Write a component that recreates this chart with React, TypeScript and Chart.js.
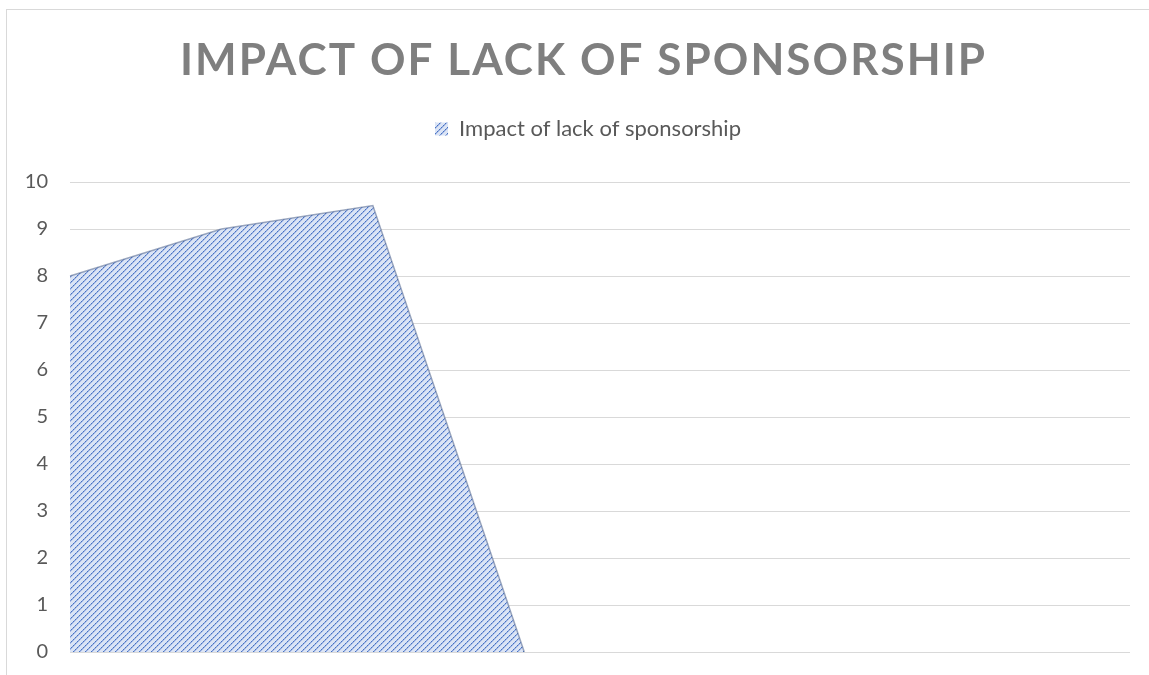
import React, { useEffect, useRef } from 'react';
import { Chart, registerables } from 'chart.js';

Chart.register(...registerables);

const chartTitle = 'IMPACT OF LACK OF SPONSORSHIP';
const seriesName = 'Impact of lack of sponsorship';
const categories = ['1', '2', '3', '4', '5', '6', '7', '8'];
const impactValues: (number | null)[] = [8, 9, 9.5, 0, null, null, null, null];
const yMin = 0;
const yMax = 10;
const yStep = 1;

function makePattern(): CanvasPattern | string {
  const n = 6;
  const tile = document.createElement('canvas');
  tile.width = n;
  tile.height = n;
  const c = tile.getContext('2d');
  if (!c) return '#8faadc';
  c.fillStyle = '#dbe4f5';
  c.fillRect(0, 0, n, n);
  for (let i = 0; i < n; i++) {
    c.fillStyle = i % 2 === 0 ? '#4472c4' : '#7895d4';
    c.fillRect(i, n - 1 - i, 1, 1);
    c.fillStyle = '#a7bbe6';
    c.fillRect(i, (n - i) % n, 1, 1);
  }
  return c.createPattern(tile, 'repeat') || '#8faadc';
}

const spacedTitle = {
  id: 'spacedTitle',
  afterDraw(chart: any) {
    const ctx = chart.ctx as CanvasRenderingContext2D;
    ctx.save();
    ctx.font = 'bold 44px Lato';
    ctx.fillStyle = '#7f7f7f';
    ctx.textBaseline = 'alphabetic';
    ctx.textAlign = 'left';
    (ctx as any).letterSpacing = '0px';
    const w = ctx.measureText(chartTitle).width;
    const targetWidth = 805;
    const spacing = Math.max(0, (targetWidth - w) / (chartTitle.length - 1));
    (ctx as any).letterSpacing = spacing + 'px';
    ctx.fillText(chartTitle, 173, 65);
    ctx.restore();
  },
};

const legendGap = {
  id: 'legendGap',
  beforeLayout(chart: any) {
    const lg = chart.legend;
    if (lg && !lg.__gapWrapped) {
      const orig = lg.fit;
      lg.fit = function (this: any) {
        orig.call(this);
        this.height += 32;
      };
      lg.__gapWrapped = true;
    }
  },
};

export default function App() {
  const ref = useRef<HTMLCanvasElement | null>(null);

  useEffect(() => {
    if (!ref.current) return;
    const pattern = makePattern();
    const chart = new Chart(ref.current, {
      type: 'line',
      data: {
        labels: categories,
        datasets: [
          {
            label: seriesName,
            data: impactValues,
            fill: 'origin',
            backgroundColor: pattern as any,
            borderColor: 'rgba(80,100,140,0.55)',
            borderWidth: 1.5,
            pointRadius: 0,
            tension: 0,
          },
        ],
      },
      options: {
        animation: false,
        responsive: false,
        layout: { padding: { top: 98, left: 0, right: 0, bottom: 38 } },
        plugins: {
          title: { display: false },
          tooltip: { enabled: false },
          legend: {
            display: true,
            position: 'top',
            labels: {
              boxWidth: 13,
              boxHeight: 13,
              color: '#595959',
              padding: 10,
              font: { family: 'Lato', size: 22 },
              generateLabels: (c: any) =>
                Chart.defaults.plugins.legend.labels
                  .generateLabels(c)
                  .map((l: any) => ({ ...l, lineWidth: 0 })),
            },
          },
        },
        scales: {
          x: {
            display: false,
            offset: false,
          },
          y: {
            min: yMin,
            max: yMax,
            ticks: {
              stepSize: yStep,
              color: '#595959',
              padding: 22,
              font: { family: 'Lato', size: 20 },
            },
            grid: { color: '#d9d9d9', lineWidth: 1, drawTicks: false },
            border: { display: false },
            afterFit: (s: any) => {
              s.width = 63;
            },
          },
          yRight: {
            position: 'right',
            display: true,
            grid: { display: false },
            ticks: { display: false },
            border: { display: false },
            afterFit: (s: any) => {
              s.width = 39;
            },
          },
        },
      },
      plugins: [spacedTitle, legendGap],
    });
    return () => chart.destroy();
  }, []);

  return (
    <div
      style={{
        position: 'fixed',
        left: 6,
        top: 9,
        border: '1px solid #d9d9d9',
        background: '#ffffff',
      }}
    >
      <canvas ref={ref} width={1162} height={680} style={{ display: 'block' }} />
    </div>
  );
}
